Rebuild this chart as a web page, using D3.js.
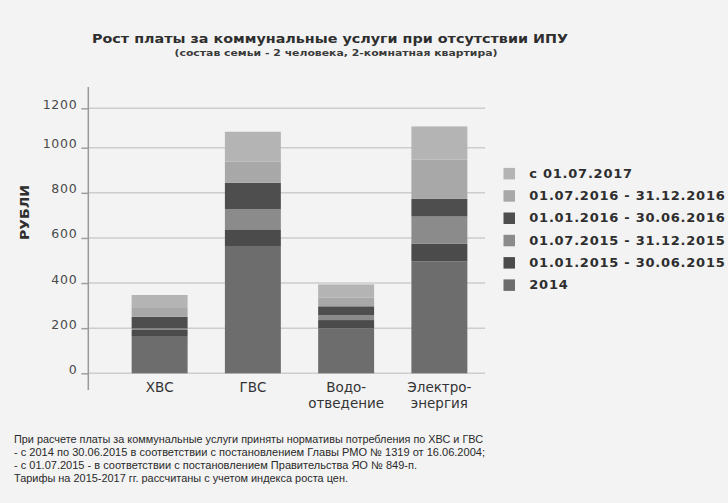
<!DOCTYPE html>
<html><head><meta charset="utf-8">
<script src="https://cdn.jsdelivr.net/npm/d3@7"></script>
<style>
html,body{margin:0;padding:0;background:#f3f3f3;}
svg{display:block;}
</style></head>
<body>
<script>
// ---- data ----
const categories = ["ХВС", "ГВС", "Водоотведение", "Электроэнергия"];
const categoryLabels = [["ХВС"], ["ГВС"], ["Водо-", "отведение"], ["Электро-", "энергия"]];
const seriesNames = ["2014", "01.01.2015 - 30.06.2015", "01.07.2015 - 31.12.2015",
                     "01.01.2016 - 30.06.2016", "01.07.2016 - 31.12.2016", "с 01.07.2017"];
const s2014   = [162, 561, 199, 496];
const s2015h1 = [30, 77, 37, 78];
const s2015h2 = [7, 89, 22, 121];
const s2016h1 = [52, 118, 39, 78];
const s2016h2 = [42, 93, 39, 174];
const s2017   = [54, 143, 58, 161];
const yTicks = [0, 200, 400, 600, 800, 1000, 1200];
const title = "Рост платы за коммунальные услуги при отсутствии ИПУ";
const subtitle = "(состав семьи - 2 человека, 2-комнатная квартира)";
const yLabel = "РУБЛИ";
const notes = [
  "При расчете платы за коммунальные услуги приняты нормативы потребления по ХВС и ГВС",
  "- с 2014 по 30.06.2015 в соответствии с постановлением Главы РМО № 1319 от 16.06.2004;",
  "- с 01.07.2015 - в соответствии с постановлением Правительства ЯО № 849-п.",
  "Тарифы на 2015-2017 гг. рассчитаны с учетом индекса роста цен."
];

// ---- styles ----
const colors = ["#6d6d6d", "#4b4b4b", "#8b8b8b", "#4e4e4e", "#a8a8a8", "#b4b4b4"];
const W = 728, H = 503;

const rows = categories.map((c, i) => ({
  cat: c,
  [seriesNames[0]]: s2014[i], [seriesNames[1]]: s2015h1[i], [seriesNames[2]]: s2015h2[i],
  [seriesNames[3]]: s2016h1[i], [seriesNames[4]]: s2016h2[i], [seriesNames[5]]: s2017[i]
}));
const stacked = d3.stack().keys(seriesNames)(rows);

const svg = d3.select("body").append("svg").attr("width", W).attr("height", H);
svg.append("rect").attr("width", W).attr("height", H).attr("fill", "#f3f3f3");

const x = d3.scaleBand().domain(categories).range([113, 486]).paddingInner(0.4).paddingOuter(0.2);
const y = d3.scaleLinear().domain([0, 1000, 1200]).range([373.3, 147.7, 108.3]);

function fit(sel, len, adj) {
  sel.attr("textLength", len).attr("lengthAdjust", adj || "spacingAndGlyphs");
  return sel;
}

// title
fit(svg.append("text").attr("x", 330).attr("y", 42.7).attr("text-anchor", "middle")
  .attr("font-family", "DejaVu Sans").attr("font-weight", "bold").attr("font-size", 13)
  .attr("fill", "#2e2e2e").text(title), 476);
fit(svg.append("text").attr("x", 336).attr("y", 55.7).attr("text-anchor", "middle")
  .attr("font-family", "DejaVu Sans").attr("font-weight", "bold").attr("font-size", 9.5)
  .attr("fill", "#3a3a3a").text(subtitle), 323);

// gridlines
svg.append("g").selectAll("line").data(yTicks).join("line")
  .attr("x1", 88).attr("x2", 485)
  .attr("y1", d => y(d)).attr("y2", d => y(d))
  .attr("stroke", "#cdcdcd").attr("stroke-width", 1.5);

// y axis
const yAxis = d3.axisLeft(y).tickValues(yTicks).tickSize(7).tickPadding(4).tickFormat(d3.format("d"));
const ga = svg.append("g").attr("transform", "translate(88.3,0)").call(yAxis);
ga.select(".domain").remove();
ga.selectAll(".tick line").attr("stroke", "#a0a0a0").attr("stroke-width", 1.5);
ga.selectAll(".tick text").attr("dy", "0").attr("x", -11)
  .attr("font-family", "DejaVu Sans").attr("font-size", 12.5).attr("fill", "#4a4a4a")
  .attr("letter-spacing", "0.7px");
svg.append("line").attr("x1", 88.3).attr("x2", 88.3).attr("y1", 87).attr("y2", 390)
  .attr("stroke", "#9a9a9a").attr("stroke-width", 1.5);

// y label
fit(svg.append("text").attr("transform", "translate(29,212.5) rotate(-90)")
  .attr("text-anchor", "middle").attr("font-family", "DejaVu Sans").attr("font-weight", "bold")
  .attr("font-size", 12).attr("fill", "#2e2e2e").text(yLabel), 55);

// bars
svg.append("g").selectAll("g").data(stacked).join("g")
  .attr("fill", (d, i) => colors[i])
  .selectAll("rect").data(d => d).join("rect")
  .attr("x", d => x(d.data.cat))
  .attr("width", x.bandwidth())
  .attr("y", d => y(d[1]))
  .attr("height", d => y(d[0]) - y(d[1]));

// x labels
const xl = svg.append("g").selectAll("text").data(categories).join("text")
  .attr("text-anchor", "middle").attr("font-family", "DejaVu Sans").attr("font-size", 13.5)
  .attr("fill", "#333");
xl.each(function(c, i) {
  const t = d3.select(this);
  categoryLabels[i].forEach((line, j) => {
    t.append("tspan").attr("x", x(c) + x.bandwidth() / 2).attr("y", 391.7 + j * 16.6).text(line);
  });
});

// legend
const legendOrder = seriesNames.map((n, i) => i).reverse();
const lg = svg.append("g").selectAll("g").data(legendOrder).join("g")
  .attr("transform", (d, k) => `translate(0,${177.7 + k * 22.3})`);
lg.append("rect").attr("x", 503.5).attr("y", -9.8).attr("width", 11.5).attr("height", 11.5)
  .attr("fill", d => colors[d]);
lg.append("text").attr("x", 529.3).attr("y", 0)
  .attr("font-family", "DejaVu Sans").attr("font-weight", "bold").attr("font-size", 13)
  .attr("letter-spacing", "0.75px").attr("fill", "#2e2e2e")
  .text(d => seriesNames[d]);

// notes
const noteW = [469, 471, 403, 334];
notes.forEach((n, i) => {
  fit(svg.append("text").attr("x", 14).attr("y", 443.3 + i * 12.8)
    .attr("font-family", "Liberation Sans").attr("font-size", 11).attr("fill", "#2a2a2a").text(n), noteW[i]);
});
</script>
</body></html>
